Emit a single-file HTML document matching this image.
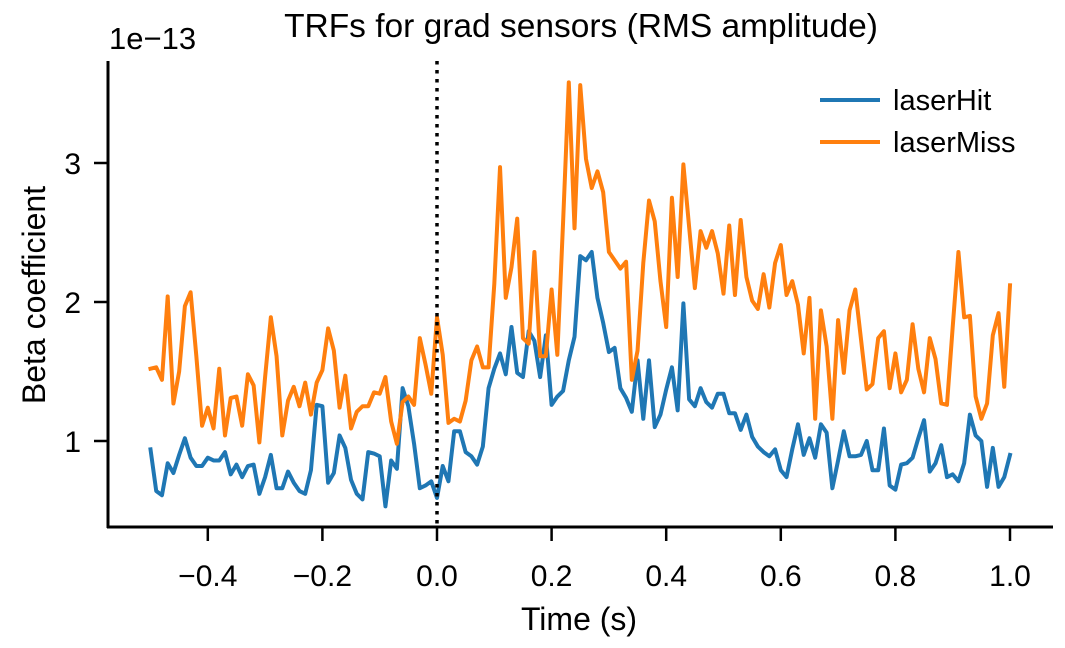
<!DOCTYPE html>
<html><head><meta charset="utf-8"><style>
html,body{margin:0;padding:0;background:#fff;}
svg{display:block;font-family:"Liberation Sans",Arial,sans-serif;}
</style></head><body>
<svg id="chart" width="1065" height="648" viewBox="0 0 1065 648" xmlns="http://www.w3.org/2000/svg">
<text x="581" y="37" font-size="33.5" text-anchor="middle" fill="#000">TRFs for grad sensors (RMS amplitude)</text>
<text x="109" y="49" font-size="31" fill="#000">1e−13</text>
<text transform="translate(45,295) rotate(-90)" font-size="32" text-anchor="middle" fill="#000">Beta coefficient</text>
<text x="579" y="630" font-size="32" text-anchor="middle" fill="#000">Time (s)</text>
<g id="plot"></g>
<g>
  <line x1="820" y1="100" x2="880" y2="100" stroke="#1f77b4" stroke-width="4"/>
  <text x="893" y="110" font-size="29" fill="#000">laserHit</text>
  <line x1="820" y1="142" x2="880" y2="142" stroke="#ff7f0e" stroke-width="4"/>
  <text x="893" y="152" font-size="29" fill="#000">laserMiss</text>
</g>
</svg>
<script>
const xTicks = [-0.4, -0.2, 0.0, 0.2, 0.4, 0.6, 0.8, 1.0];
const xTickLabels = ["−0.4", "−0.2", "0.0", "0.2", "0.4", "0.6", "0.8", "1.0"];
const yTicks = [1, 2, 3];
const yTickLabels = ["1", "2", "3"];
const tStart = -0.5;
const tStep = 0.01;
const laserHit = [0.94,0.64,0.61,0.84,0.77,0.90,1.02,0.88,0.82,0.82,
0.88,0.86,0.86,0.92,0.76,0.83,0.74,0.82,0.83,0.62,
0.74,0.90,0.66,0.66,0.78,0.70,0.64,0.62,0.79,1.26,
1.25,0.70,0.77,1.04,0.95,0.72,0.62,0.58,0.92,0.91,
0.89,0.53,0.86,0.80,1.38,1.25,0.98,0.66,0.68,0.71,
0.59,0.82,0.71,1.07,1.07,0.92,0.89,0.83,0.96,1.38,
1.52,1.63,1.48,1.82,1.49,1.46,1.79,1.72,1.46,1.76,
1.26,1.32,1.36,1.58,1.75,2.33,2.30,2.36,2.03,1.85,
1.64,1.67,1.38,1.31,1.21,1.58,1.16,1.58,1.10,1.19,
1.37,1.53,1.22,1.99,1.30,1.25,1.38,1.28,1.24,1.34,
1.34,1.20,1.20,1.08,1.19,1.03,0.96,0.92,0.89,0.94,
0.79,0.74,0.94,1.12,0.90,1.02,0.88,1.12,1.06,0.66,
0.86,1.07,0.89,0.89,0.90,1.00,0.79,0.79,1.09,0.68,
0.65,0.83,0.84,0.88,1.02,1.15,0.78,0.84,0.97,0.74,
0.76,0.71,0.84,1.19,1.04,1.00,0.67,0.95,0.67,0.74,0.90];
const laserMiss = [1.52,1.53,1.44,2.04,1.27,1.50,1.97,2.07,1.61,1.11,
1.24,1.09,1.52,1.04,1.31,1.32,1.11,1.48,1.40,0.99,
1.46,1.89,1.61,1.04,1.29,1.39,1.25,1.42,1.19,1.42,
1.51,1.81,1.65,1.24,1.47,1.09,1.21,1.25,1.25,1.35,
1.34,1.46,1.14,0.98,1.28,1.32,1.26,1.74,1.55,1.34,
1.89,1.62,1.13,1.16,1.14,1.29,1.58,1.68,1.53,1.53,
2.13,2.97,2.03,2.25,2.60,1.74,1.70,2.36,1.61,1.61,
2.09,1.62,2.57,3.58,2.53,3.56,3.03,2.82,2.94,2.79,
2.36,2.30,2.24,2.29,1.44,1.65,2.28,2.73,2.58,2.15,
1.82,2.75,2.18,2.99,2.54,2.10,2.51,2.39,2.51,2.35,
2.06,2.55,2.05,2.59,2.18,2.01,1.95,2.20,1.96,2.28,
2.41,2.05,2.15,1.98,1.63,2.03,1.16,1.94,1.68,1.16,
1.87,1.49,1.94,2.09,1.73,1.37,1.41,1.74,1.79,1.38,
1.63,1.35,1.44,1.84,1.52,1.35,1.74,1.59,1.27,1.26,
1.82,2.36,1.89,1.90,1.32,1.16,1.27,1.76,1.92,1.39,2.12];

const NS = "http://www.w3.org/2000/svg";
const plot = document.getElementById("plot");
function xScale(t){ return 437 + 573 * t; }
function yScale(v){ return 441 - (v - 1) * 139; }
function mk(tag, attrs){ const e = document.createElementNS(NS, tag); for (const k in attrs) e.setAttribute(k, attrs[k]); return e; }

function drawSeries(vals, color, name){
  const pts = vals.map((v,i)=> xScale(tStart + i*tStep).toFixed(2) + "," + yScale(v).toFixed(2)).join(" ");
  const pl = mk("polyline", {points: pts, fill: "none", stroke: color, "stroke-width": 4, "stroke-linejoin": "round", "stroke-linecap": "square"});
  
  
  plot.appendChild(pl);
}
drawSeries(laserHit, "#1f77b4", "line-laserhit");
drawSeries(laserMiss, "#ff7f0e", "line-lasermiss");

const vline = mk("line", {x1: xScale(0), y1: 61, x2: xScale(0), y2: 527, stroke: "#000", "stroke-width": 3.5, "stroke-dasharray": "3.5,5.5"});


plot.appendChild(vline);

const ySpine = mk("line", {x1: 108, y1: 61, x2: 108, y2: 528, stroke: "#000", "stroke-width": 3});


plot.appendChild(ySpine);
const xSpine = mk("line", {x1: 107, y1: 527, x2: 1053, y2: 527, stroke: "#000", "stroke-width": 3});


plot.appendChild(xSpine);

xTicks.forEach((t,i)=>{
  const x = xScale(t);
  const tk = mk("line", {x1: x, y1: 527, x2: x, y2: 541, stroke: "#000", "stroke-width": 2.5});
  
  
  plot.appendChild(tk);
  const lb = mk("text", {x: x, y: 586, "font-size": 30, "text-anchor": "middle", fill: "#000"});
  lb.textContent = xTickLabels[i];
  
  
  plot.appendChild(lb);
});
yTicks.forEach((v,i)=>{
  const y = yScale(v);
  const tk = mk("line", {x1: 94, y1: y, x2: 108, y2: y, stroke: "#000", "stroke-width": 2.5});
  
  
  plot.appendChild(tk);
  const lb = mk("text", {x: 81, y: y + 11, "font-size": 30, "text-anchor": "end", fill: "#000"});
  lb.textContent = yTickLabels[i];
  
  
  plot.appendChild(lb);
});
</script>
</body></html>
